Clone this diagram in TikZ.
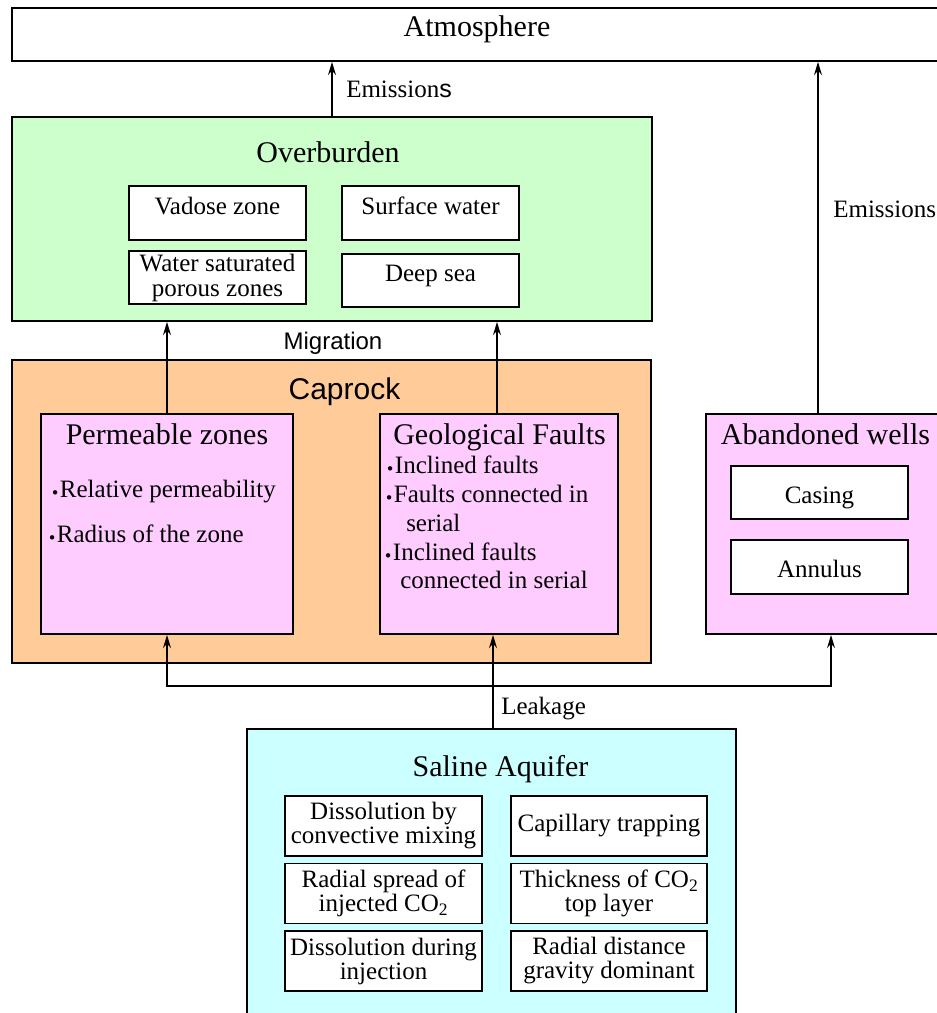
\documentclass[tikz,border=0pt]{standalone}
\usepackage{fontspec}
\setmainfont{Liberation Serif}
\setsansfont{Liberation Sans}
\usetikzlibrary{positioning,arrows.meta}

\definecolor{overgreen}{HTML}{CCFFCC}
\definecolor{caporange}{HTML}{FFCC99}
\definecolor{zonepink}{HTML}{FFCCFF}
\definecolor{aquicyan}{HTML}{CCFFFF}

% small raised bullet for the lists
\newcommand{\bul}{\raisebox{1.2pt}{\fontsize{8.5}{8.5}\selectfont$\bullet$}\hspace{1.5pt}}

\begin{document}
\begin{tikzpicture}[x=0.75pt,y=-0.75pt,
  box/.style={draw,line width=1.3pt,inner sep=1pt},
  big/.style={font=\fontsize{22.5}{27}\selectfont},
  bigsans/.style={font=\sffamily\fontsize{22.5}{27}\selectfont},
  small/.style={font=\fontsize{18.75}{18.75}\selectfont},
  smallsans/.style={font=\sffamily\fontsize{18}{18.75}\selectfont},
  lbl/.style={small,anchor=base west,inner sep=0pt},
  inbox/.style={box,fill=white,small,align=center,minimum width=132.75pt,minimum height=40pt},
  oneline/.style={text height=12pt,text depth=10pt},
  wellbox/.style={text height=16pt,text depth=0pt},
  aqbox/.style={box,fill=white,align=center,inner sep=0pt,
    font=\fontsize{18.75}{18}\selectfont,minimum width=147.5pt,minimum height=45pt},
  arr/.style={line width=1.2pt,-{Stealth[length=10pt,width=6pt,inset=3.5pt]}},
  twoarr/.style={line width=1.2pt,
    {Stealth[length=10pt,width=6pt,inset=3.5pt]}-{Stealth[length=10pt,width=6pt,inset=3.5pt]}}
]

\clip (0,0) rectangle (937,1013);

% Big boxes
\node[box, minimum width=698.25pt, minimum height=39.75pt] (atm) at (477.5,34.5) {};
\node[box, fill=overgreen, minimum width=480pt, minimum height=153pt] (over) at (332,219) {};
\node[box, fill=caporange, minimum width=479.25pt, minimum height=227.25pt] (cap) at (331.5,511.5) {};
\node[box, fill=zonepink, minimum width=189pt, minimum height=165pt] (perm) at (167,524) {};
\node[box, fill=zonepink, minimum width=178.5pt, minimum height=165pt] (fault) at (499,524) {};
\node[box, fill=zonepink, minimum width=178.5pt, minimum height=165pt] (wells) at (825,524) {};
\node[box, fill=aquicyan, minimum width=366.75pt, minimum height=233.25pt] (saline) at (491.5,884.5) {};

% Titles
\node[big, anchor=base] (atmtitle) at (477,37) {Atmosphere};
\node[big, anchor=base] (overtitle) at (328,162) {Overburden};
\node[bigsans, anchor=base] (captitle) at (344.5,399) {Caprock};
\node[big, anchor=base] (permtitle) at (167,444) {Permeable zones};
\node[big, anchor=base] (faulttitle) at (499.5,444) {Geological Faults};
\node[big, anchor=base] (wellstitle) at (825.5,444) {Abandoned wells};
\node[big, anchor=base] (salinetitle) at (500.5,776) {Saline Aquifer};

% Overburden
\node[inbox, oneline] (vadose) at (217.5,213) {Vadose zone};
\node[inbox, oneline] (surface) at (430.5,213) {Surface water};
\node[inbox] (watersat) at (217.5,277.5) {Water saturated\\porous zones};
\node[inbox, oneline] (deepsea) at (430.5,280.5) {Deep sea};

% Caprock lists
\node[lbl] (pz1) at (52,497) {\bul Relative permeability};
\node[lbl] (pz2) at (49,542) {\bul Radius of the zone};
\node[lbl] (gf1) at (387,473) {\bul Inclined faults};
\node[lbl] (gf2) at (386,502) {\bul Faults connected in};
\node[lbl] (gf3) at (406,531) {serial};
\node[lbl] (gf4) at (385,560) {\bul Inclined faults};
\node[lbl] (gf5) at (400,588) {connected in serial};

% Wells
\node[inbox, wellbox] (casing) at (819.5,492.5) {Casing};
\node[inbox, wellbox] (annulus) at (819.5,567) {Annulus};

% Aquifer
\node[aqbox] (dconv) at (383.5,826) {Dissolution by\\convective mixing};
\node[aqbox] (capil) at (609,826) {Capillary trapping};
\node[aqbox] (radial) at (383.5,893.5) {Radial spread of\\injected CO\textsubscript{2}};
\node[aqbox] (thick) at (609,893.5) {Thickness of CO\textsubscript{2}\\top layer};
\node[aqbox] (dinj) at (383.5,961) {Dissolution during\\injection};
\node[aqbox] (rdist) at (609,961) {Radial distance\\gravity dominant};

% Arrows
\draw[arr] (over.north) -- (over.north |- atm.south);
\draw[arr] ([xshift=-5.25pt]wells.north) -- ([xshift=-5.25pt]wells.north |- atm.south);
\draw[arr] (perm.north) -- (perm.north |- over.south);
\draw[arr] ([xshift=-1.5pt]fault.north) -- ([xshift=-1.5pt]fault.north |- over.south);

\coordinate (split) at (493,686);
\draw[arr] (split |- saline.north) -- (split |- fault.south);
\draw[twoarr] (perm.south) -- (perm.south |- split) -- ([xshift=4.5pt]wells.south |- split) -- ([xshift=4.5pt]wells.south);

% Arrow labels
\node[lbl] (emis1) at (346,98) {Emission{\sffamily s}};
\node[lbl] (emis2) at (833,217) {Emissions};
\node[smallsans, anchor=base] (migr) at (333,349) {Migration};
\node[lbl] (leak) at (501,714) {Leakage};

\end{tikzpicture}
\end{document}
